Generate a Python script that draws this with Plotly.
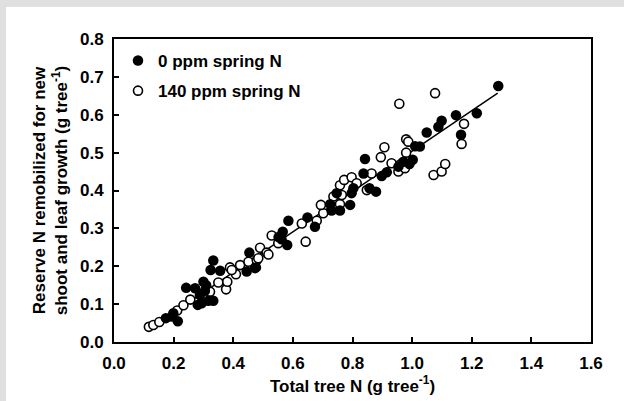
import plotly.graph_objects as go

# 0 ppm spring N (filled)
x0 = [0.174, 0.194, 0.214, 0.199, 0.242, 0.272, 0.281, 0.288, 0.300, 0.309, 0.294, 0.316,
      0.333, 0.333, 0.324, 0.356, 0.305, 0.445, 0.454, 0.476, 0.473, 0.552, 0.566, 0.562,
      0.581, 0.585, 0.649, 0.674, 0.725, 0.730, 0.758, 0.747, 0.792, 0.797, 0.803, 0.837,
      0.842, 0.857, 0.879, 0.898, 0.915, 0.954, 0.971, 0.991, 1.002, 1.010, 1.026, 1.049,
      1.088, 1.099, 1.147, 1.164, 1.217, 1.289]
y0 = [0.063, 0.067, 0.055, 0.076, 0.143, 0.142, 0.098, 0.124, 0.159, 0.150, 0.102, 0.109,
      0.109, 0.215, 0.190, 0.188, 0.135, 0.186, 0.236, 0.197, 0.195, 0.277, 0.291, 0.271,
      0.256, 0.320, 0.329, 0.304, 0.364, 0.347, 0.347, 0.393, 0.362, 0.393, 0.406, 0.445,
      0.483, 0.406, 0.397, 0.438, 0.448, 0.463, 0.476, 0.470, 0.481, 0.517, 0.516, 0.553,
      0.568, 0.584, 0.599, 0.547, 0.604, 0.676]

# 140 ppm spring N (open)
x140 = [0.117, 0.132, 0.152, 0.212, 0.233, 0.256, 0.322, 0.350, 0.376, 0.380, 0.389, 0.409,
        0.423, 0.395, 0.451, 0.479, 0.484, 0.490, 0.512, 0.518, 0.529, 0.551, 0.630, 0.643,
        0.680, 0.702, 0.694, 0.736, 0.758, 0.764, 0.758, 0.772, 0.797, 0.814, 0.848, 0.864,
        0.895, 0.907, 0.931, 0.954, 0.976, 0.980, 0.980, 0.987, 0.957, 1.077, 1.072, 1.099,
        1.111, 1.166, 1.174]
y140 = [0.040, 0.045, 0.053, 0.083, 0.097, 0.112, 0.133, 0.157, 0.139, 0.159, 0.197, 0.179,
        0.203, 0.190, 0.212, 0.216, 0.221, 0.249, 0.236, 0.231, 0.281, 0.261, 0.313, 0.265,
        0.320, 0.340, 0.362, 0.384, 0.364, 0.388, 0.414, 0.428, 0.435, 0.419, 0.401, 0.445,
        0.488, 0.514, 0.472, 0.450, 0.459, 0.500, 0.535, 0.529, 0.629, 0.657, 0.441, 0.450,
        0.470, 0.523, 0.576]

# regression line
fit_x = [0.11, 1.287]
fit_intercept = -0.029
fit_slope = 0.533
fit_y = [fit_intercept + fit_slope * v for v in fit_x]

xticks = [0.0, 0.2, 0.4, 0.6, 0.8, 1.0, 1.2, 1.4, 1.6]
yticks = [0.0, 0.1, 0.2, 0.3, 0.4, 0.5, 0.6, 0.7, 0.8]

FONT = "Arial, Liberation Sans, sans-serif"
FS = 17

fig = go.Figure()
fig.add_trace(go.Scatter(x=fit_x, y=fit_y, mode="lines", line=dict(color="black", width=1.5),
                         showlegend=False, hoverinfo="skip"))
fig.add_trace(go.Scatter(x=x140, y=y140, mode="markers", name="140 ppm spring N",
                         legendgroup="b", legendrank=2,
                         marker=dict(symbol="circle", size=9, color="white",
                                     line=dict(color="black", width=1.6))))
fig.add_trace(go.Scatter(x=x0, y=y0, mode="markers", name="0 ppm spring N",
                         legendgroup="a", legendrank=1,
                         marker=dict(symbol="circle", size=10.5, color="black",
                                     line=dict(color="black", width=0))))

L, R, T, B = 114, 33, 39, 59
W, H = 624, 401
pw, ph = W - L - R, H - T - B

def px2x(p):
    return (p - L) / pw

def py2y(p):
    return (H - B - p) / ph

shapes = [
    dict(type="rect", xref="paper", yref="paper", x0=px2x(0), x1=px2x(6), y0=py2y(H), y1=py2y(0),
         fillcolor="#e0e0e0", line=dict(width=0), layer="below"),
    dict(type="rect", xref="paper", yref="paper", x0=px2x(0), x1=px2x(W), y0=py2y(7), y1=py2y(0),
         fillcolor="#e0e0e0", line=dict(width=0), layer="below"),
]

axis_common = dict(showgrid=False, zeroline=False, showline=True, linecolor="black", linewidth=2,
                   mirror=True, ticks="inside", ticklen=5, tickwidth=1.5, tickcolor="black",
                   tickfont=dict(family=FONT, size=FS, color="black", weight="bold"))

fig.update_layout(
    width=W, height=H,
    margin=dict(l=L, r=R, t=T, b=B, autoexpand=False),
    paper_bgcolor="white", plot_bgcolor="white",
    font=dict(family=FONT, color="black"),
    shapes=shapes,
    showlegend=True,
    legend=dict(x=px2x(118), y=py2y(43), xanchor="left", yanchor="top",
                bgcolor="rgba(0,0,0,0)", borderwidth=0, tracegroupgap=5,
                font=dict(family=FONT, size=FS, color="black", weight="bold")),
    xaxis=dict(range=[0, 1.6], tickvals=xticks, ticktext=[f"{v:.1f}" for v in xticks],
               ticklabelstandoff=5,
               title=dict(text="Total tree N (g tree<sup>-1</sup>)", standoff=1,
                          font=dict(family=FONT, size=FS, color="black", weight="bold")),
               **axis_common),
    yaxis=dict(range=[0, 0.8], tickvals=yticks, ticktext=[f"{v:.1f}" for v in yticks],
               ticklabelstandoff=5,
               title=dict(text="Reserve N remobilized for new<br>shoot and leaf growth (g tree<sup>-1</sup>)",
                          standoff=8,
                          font=dict(family=FONT, size=FS, color="black", weight="bold")),
               **axis_common),
)

fig.write_html("out.html")
